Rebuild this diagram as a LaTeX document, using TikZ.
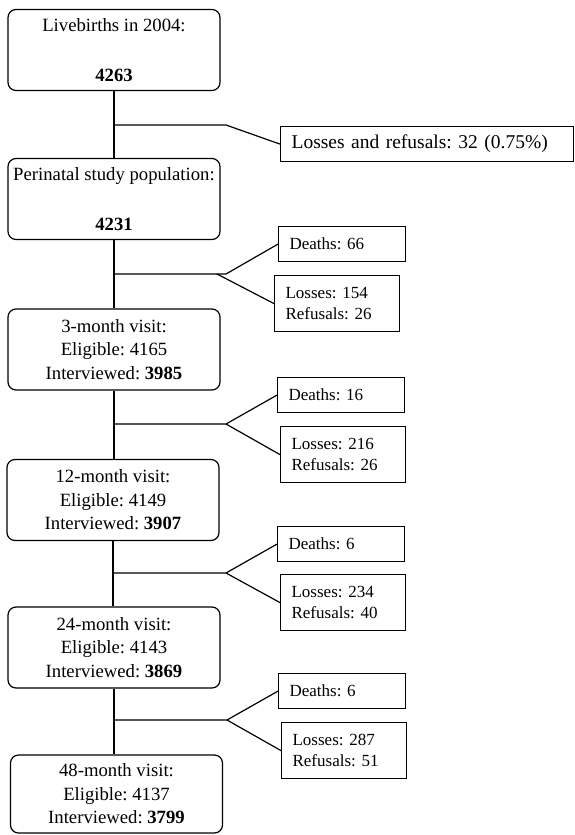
\documentclass[tikz,border=0pt]{standalone}
\usepackage{fontspec}
\setmainfont{Liberation Serif}
\frenchspacing
\tikzset{stage/.style={draw,rounded corners=8pt,minimum width=212pt,minimum height=81pt,
                       align=center,line width=1.2pt,font=\fontsize{18.7}{23.5}\selectfont},
         side/.style={draw,anchor=north west,align=left,inner xsep=11pt,inner ysep=0pt,
                      line width=1.2pt,font=\fontsize{17}{21}\selectfont},
         deathbox/.style={side,text width=105pt,minimum height=35pt},
         lossbox/.style={side,text width=103pt,minimum height=56pt},
         link/.style={line width=1.2pt}}

\begin{document}
\begin{tikzpicture}[x=1pt,y=1pt]
\useasboundingbox (0,0) rectangle (574,-835);

\node[stage] (birth) at (114,-50) {Livebirths in 2004:\\[27pt]\textbf{4263}};
\node[stage] (peri) at (114,-199) {Perinatal study population:\\[27pt]\textbf{4231}};
\node[stage] (m3) at (114,-349.5) {3-month visit:\\Eligible: 4165\\Interviewed: \textbf{3985}};
\node[stage] (m12) at (113,-500) {12-month visit:\\Eligible: 4149\\Interviewed: \textbf{3907}};
\node[stage] (m24) at (114,-647.5) {24-month visit:\\Eligible: 4143\\Interviewed: \textbf{3869}};
\node[stage,minimum height=78pt] (m48) at (116.5,-794) {48-month visit:\\Eligible: 4137\\Interviewed: \textbf{3799}};

\node[side,text width=271pt,minimum height=35pt,font=\fontsize{19.5}{23}\selectfont] (lost) at (280,-126) {Losses and refusals: 32 (0.75\%)};
\node[deathbox] (d3) at (278,-226) {Deaths: 66};
\node[lossbox] (l3) at (274,-275) {Losses: 154\\Refusals: 26};
\node[deathbox] (d12) at (277,-377) {Deaths: 16};
\node[lossbox] (l12) at (280,-426) {Losses: 216\\Refusals: 26};
\node[deathbox] (d24) at (277,-526) {Deaths: 6};
\node[lossbox] (l24) at (280,-574) {Losses: 234\\Refusals: 40};
\node[deathbox] (d48) at (278,-673) {Deaths: 6};
\node[lossbox] (l48) at (281,-722) {Losses: 287\\Refusals: 51};

\draw[link] (birth.south) -- (peri.north);
\draw[link] (peri.south) -- (m3.north);
\draw[link] (m3.south) -- (m3.south |- m12.north);
\draw[link] (m12.south) -- (m12.south |- m24.north);
\draw[link] (m24.south) -- (m24.south |- m48.north);

\coordinate (j0) at (114,-125);
\coordinate (k0) at (226,-125);
\draw[link] (j0) -- (k0) -- (lost.west);

\coordinate (j3) at (114,-274);
\coordinate (k3) at (226,-274);
\coordinate (k3b) at (217,-274);
\draw[link] (j3) -- (k3) -- (d3.west);
\draw[link] (k3b) -- (l3.west);

\coordinate (j12) at (114,-424);
\coordinate (k12) at (226,-424);
\draw[link] (j12) -- (k12) -- (d12.west);
\draw[link] (k12) -- (l12.west);

\coordinate (j24) at (113,-573);
\coordinate (k24) at (226,-573);
\draw[link] (j24) -- (k24) -- (d24.west);
\draw[link] (k24) -- (l24.west);

\coordinate (j48) at (114,-720);
\coordinate (k48) at (227,-720);
\draw[link] (j48) -- (k48) -- (d48.west);
\draw[link] (k48) -- (l48.west);
\end{tikzpicture}
\end{document}
